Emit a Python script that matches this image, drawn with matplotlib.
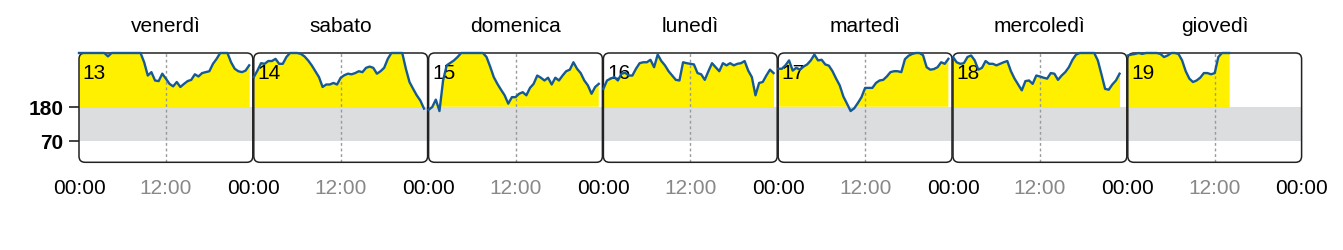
import matplotlib.pyplot as plt
import numpy as np
from matplotlib.patches import FancyBboxPatch

plt.rcParams['font.family'] = ['Liberation Sans', 'DejaVu Sans']

# glucose readings every 30 min, values at the chart top (>= 354) are clipped
days = ['venerdì', 'sabato', 'domenica', 'lunedì', 'martedì', 'mercoledì', 'giovedì']
dates = [13, 14, 15, 16, 17, 18, 19]

d13 = [360, 360, 360, 360, 360, 360, 360, 360, 343, 360,
       360, 360, 360, 360, 360, 360, 360, 360, 324, 281,
       292, 265, 263, 287, 271, 254, 246, 260, 244, 254,
       263, 267, 285, 278, 289, 292, 295, 319, 335, 360,
       360, 360, 324, 303, 295, 292, 297, 314]
d14 = [276, 297, 321, 319, 328, 328, 335, 319, 319, 341,
       360, 360, 360, 351, 343, 330, 314, 295, 276, 244,
       252, 252, 257, 252, 274, 282, 287, 285, 289, 295,
       292, 306, 310, 306, 287, 295, 306, 335, 360, 360,
       360, 360, 303, 260, 238, 217, 200, 174]
d15 = [170, 179, 203, 166, 265, 314, 322, 330, 341, 360,
       360, 360, 360, 360, 360, 360, 341, 310, 276, 254,
       235, 217, 190, 211, 211, 222, 227, 217, 241, 254,
       281, 274, 265, 274, 252, 274, 265, 281, 295, 300,
       324, 303, 289, 265, 249, 222, 244, 254]
d16 = [238, 265, 271, 276, 265, 287, 290, 281, 281, 303,
       321, 324, 324, 332, 308, 349, 328, 314, 295, 281,
       267, 265, 324, 321, 319, 317, 289, 285, 267, 295,
       321, 308, 295, 321, 314, 321, 314, 319, 321, 328,
       297, 276, 217, 257, 260, 281, 300, 289]
d17 = [303, 303, 314, 330, 297, 306, 300, 310, 317, 330,
       349, 330, 332, 317, 313, 295, 271, 249, 213, 190,
       166, 175, 192, 211, 241, 241, 241, 257, 265, 267,
       278, 292, 295, 295, 292, 334, 345, 351, 360, 360,
       347, 308, 300, 302, 308, 324, 319, 335]
d18 = [341, 324, 319, 321, 341, 346, 330, 300, 306, 328,
       319, 319, 314, 319, 324, 328, 295, 271, 252, 233,
       263, 265, 254, 281, 278, 274, 271, 289, 287, 267,
       281, 292, 308, 332, 349, 360, 360, 360, 360, 360,
       330, 285, 238, 235, 252, 265, 287, np.nan]
d19 = [346, 349, 351, 356, 351, 356, 360, 360, 360, 351,
       341, 346, 360, 360, 351, 330, 295, 271, 260, 265,
       274, 289, 289, 285, 289, 341, 360, 360, 360]
series = [d13, d14, d15, d16, d17, d18, d19]

LOW, HIGH, YMAX = 70, 180, 354
yellow = '#fff000'
band = '#dcdddf'
blue = '#155a96'

fig = plt.figure(figsize=(13.43, 2.51), dpi=100)
W, H = 1343, 251
for i in range(7):
    ax = fig.add_axes([(79 + 174.8 * i) / W, 87.7 / H, 173.8 / W, 109.3 / H])
    ax.set_xlim(0, 24)
    ax.set_ylim(0, YMAX)
    ax.patch.set_visible(False)
    for s in ax.spines.values():
        s.set_visible(False)

    box = FancyBboxPatch((0, 0), 1, 1, boxstyle='round,pad=0,rounding_size=0.035',
                         mutation_aspect=173.8 / 109.3, transform=ax.transAxes,
                         fill=False, ec='#222222', lw=1.1, zorder=5, clip_on=False)
    ax.add_patch(box)

    b = ax.axhspan(LOW, HIGH, color=band, lw=0, zorder=1)
    b.set_clip_path(box)

    v = np.array(series[i], dtype=float)
    h = np.arange(len(v)) * 0.5
    vc = np.minimum(v, YMAX)
    f = ax.fill_between(h, HIGH, vc, where=vc > HIGH, interpolate=True,
                        color=yellow, lw=0, zorder=2)
    f.set_clip_path(box)
    ax.axvline(12, color='#999999', lw=1, ls=(0, (2, 2)), zorder=3)
    ax.plot(h, vc, color=blue, lw=1.7, zorder=6, clip_on=False)

    ax.text(0.02, 0.82, str(dates[i]), fontsize=15, va='center', ha='left',
            transform=ax.transAxes, zorder=4)
    ax.text(0.5, 1 + 27 / 109.3, days[i], fontsize=15, ha='center', va='center',
            transform=ax.transAxes)

    ticks = [0, 12] if i < 6 else [0, 12, 24]
    ax.set_xticks(ticks)
    ax.set_xticklabels(['00:00', '12:00', '00:00'][:len(ticks)])
    ax.get_xticklabels()[1].set_color('#888888')
    ax.tick_params(axis='x', length=0, pad=11, labelsize=15)

    if i == 0:
        ax.set_yticks([LOW, HIGH])
        ax.set_yticklabels(['70', '180'], fontweight='bold')
        ax.tick_params(axis='y', length=7, width=1.2, pad=4, labelsize=15, color='#222222')
    else:
        ax.set_yticks([])

fig.savefig('out.png', dpi=100)
